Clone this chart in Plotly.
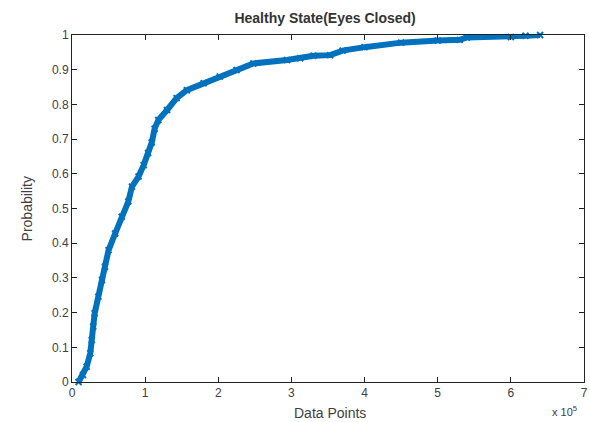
import plotly.graph_objects as go

# Data points (x in units of 1e5) and cumulative probability
data_points_e5 = [0.09, 0.15, 0.20, 0.25, 0.27, 0.29, 0.31, 0.36, 0.41, 0.45,
                  0.50, 0.59, 0.68, 0.77, 0.82, 0.91, 0.98, 1.04, 1.09, 1.13,
                  1.18, 1.30, 1.43, 1.57, 1.80, 2.02, 2.25, 2.48, 2.94, 3.12,
                  3.30, 3.53, 3.70, 4.00, 4.50, 5.00, 5.30, 5.40, 6.00, 6.20, 6.40]
probability = [0.0, 0.02, 0.044, 0.083, 0.121, 0.16, 0.198, 0.246, 0.294, 0.332,
               0.38, 0.428, 0.476, 0.52, 0.563, 0.592, 0.625, 0.66, 0.69, 0.73,
               0.755, 0.784, 0.818, 0.841, 0.861, 0.88, 0.899, 0.918, 0.928, 0.933,
               0.94, 0.942, 0.955, 0.965, 0.978, 0.984, 0.986, 0.993, 0.994, 0.998, 1.0]
data_points = [v * 1e5 for v in data_points_e5]

x_tick_vals = [0, 1e5, 2e5, 3e5, 4e5, 5e5, 6e5, 7e5]
x_tick_text = ["0", "1", "2", "3", "4", "5", "6", "7"]
y_tick_vals = [0, 0.1, 0.2, 0.3, 0.4, 0.5, 0.6, 0.7, 0.8, 0.9, 1.0]
y_tick_text = ["0", "0.1", "0.2", "0.3", "0.4", "0.5", "0.6", "0.7", "0.8", "0.9", "1"]

blue = "#0072BD"
font_family = "Liberation Sans, Arial, sans-serif"
text_color = "#404040"

fig = go.Figure()
fig.add_trace(go.Scatter(
    x=data_points, y=probability, mode="lines+markers",
    line=dict(color=blue, width=6),
    marker=dict(symbol="x-thin", size=6, color=blue, line=dict(color=blue, width=2)),
    showlegend=False, cliponaxis=False,
))

axis_common = dict(
    showgrid=False, zeroline=False, showline=True, linecolor="#222222", linewidth=1,
    mirror="ticks", ticks="inside", ticklen=5, tickcolor="#222222", automargin=False,
    ticklabeloverflow="allow",
    tickfont=dict(family=font_family, size=12, color=text_color),
)

fig.update_layout(
    width=590, height=422,
    margin=dict(l=72, r=6, t=35, b=40),
    paper_bgcolor="white", plot_bgcolor="white",
    font=dict(family=font_family, size=12, color=text_color),
    title=dict(text="<b>Healthy State(Eyes Closed)</b>", x=0.551, xanchor="center",
               y=0.957, yanchor="middle",
               font=dict(family=font_family, size=14, color="#333333")),
    xaxis=dict(range=[0, 7e5], tickvals=x_tick_vals, ticktext=x_tick_text, **axis_common),
    yaxis=dict(range=[0, 1], tickvals=y_tick_vals, ticktext=y_tick_text, **axis_common),
    annotations=[
        dict(text="Data Points", xref="paper", yref="paper", x=0.504, y=-0.09,
             xanchor="center", yanchor="middle", showarrow=False,
             font=dict(family=font_family, size=14, color=text_color)),
        dict(text="Probability", xref="paper", yref="paper", x=-0.088, y=0.5,
             xanchor="center", yanchor="middle", textangle=-90, showarrow=False,
             font=dict(family=font_family, size=14, color=text_color)),
        dict(text="x 10<sup>5</sup>", xref="paper", yref="paper",
             x=0.99, y=-0.058, xanchor="right", yanchor="top", showarrow=False,
             font=dict(family=font_family, size=11, color=text_color)),
    ],
)

# Remove the default page margin so the figure fills the window exactly.
fig.write_html("out.html",
               config={"displayModeBar": False},
               post_script="document.body.style.margin='0';document.body.style.overflow='hidden';")
